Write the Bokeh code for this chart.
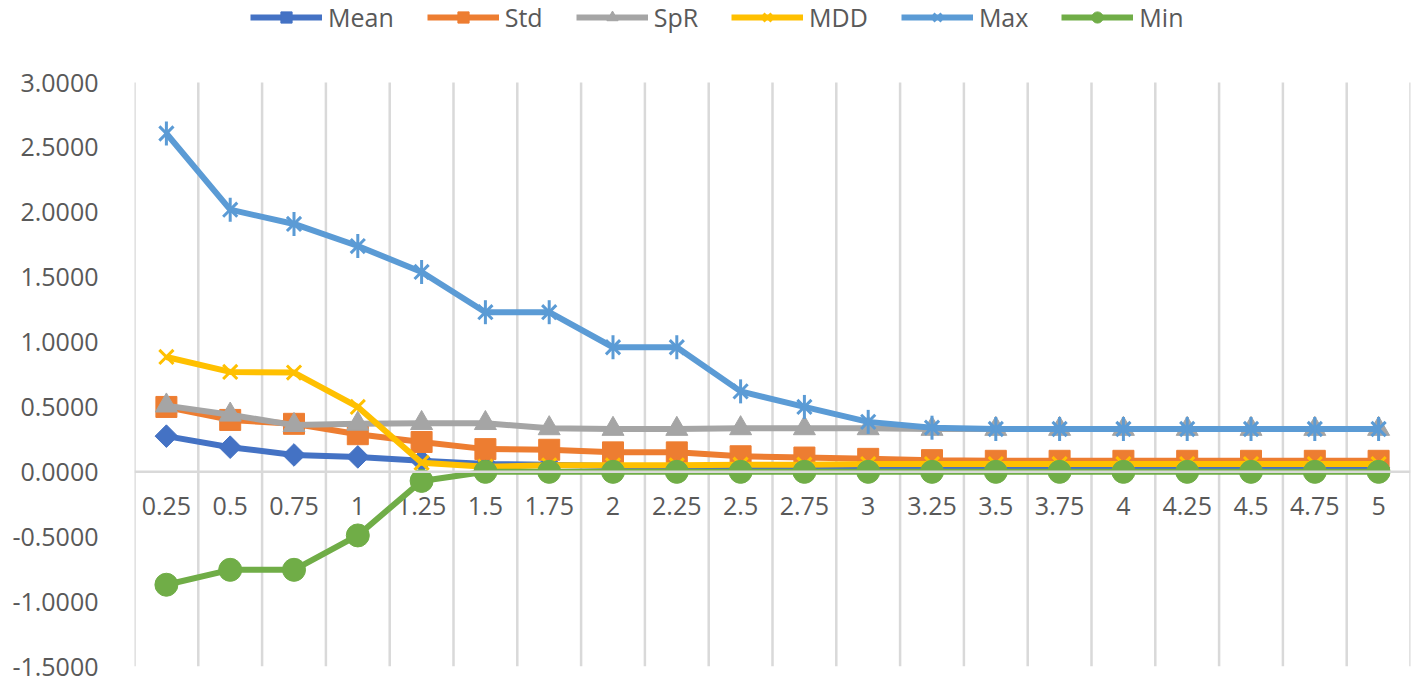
import math
from bokeh.plotting import figure
from bokeh.models import (Range1d, FixedTicker, Span, Legend, LegendItem)
from bokeh.core.properties import value
from bokeh.embed import file_html
from bokeh.resources import INLINE

categories = ["0.25", "0.5", "0.75", "1", "1.25", "1.5", "1.75", "2", "2.25", "2.5",
              "2.75", "3", "3.25", "3.5", "3.75", "4", "4.25", "4.5", "4.75", "5"]
mean_vals = [0.275, 0.19, 0.13, 0.115, 0.085, 0.06, 0.055, 0.045, 0.045, 0.04,
             0.035, 0.035, 0.03, 0.03, 0.03, 0.03, 0.03, 0.03, 0.03, 0.03]
std_vals = [0.50, 0.40, 0.37, 0.29, 0.23, 0.175, 0.17, 0.15, 0.15, 0.12,
            0.11, 0.10, 0.09, 0.085, 0.085, 0.085, 0.085, 0.085, 0.085, 0.085]
spr_vals = [0.51, 0.44, 0.36, 0.37, 0.375, 0.375, 0.335, 0.33, 0.33, 0.335,
            0.335, 0.335, 0.33, 0.33, 0.33, 0.33, 0.33, 0.33, 0.33, 0.33]
mdd_vals = [0.885, 0.77, 0.765, 0.50, 0.07, 0.04, 0.05, 0.05, 0.05, 0.055,
            0.055, 0.06, 0.06, 0.06, 0.06, 0.06, 0.06, 0.06, 0.06, 0.06]
max_vals = [2.607, 2.02, 1.91, 1.74, 1.54, 1.23, 1.23, 0.96, 0.96, 0.62,
            0.50, 0.385, 0.34, 0.33, 0.33, 0.33, 0.33, 0.33, 0.33, 0.33]
min_vals = [-0.87, -0.755, -0.755, -0.49, -0.07, 0.0, 0.0, 0.0, 0.0, 0.0,
            0.0, 0.0, 0.0, 0.0, 0.0, 0.0, 0.0, 0.0, 0.0, 0.0]
y_ticks = [-1.5, -1.0, -0.5, 0.0, 0.5, 1.0, 1.5, 2.0, 2.5, 3.0]
y_tick_labels = ["-1.5000", "-1.0000", "-0.5000", "0.0000", "0.5000",
                 "1.0000", "1.5000", "2.0000", "2.5000", "3.0000"]

xs = list(range(len(categories)))
n = len(categories)
y_min, y_max = y_ticks[0], y_ticks[-1]

W, H = 1416, 681
top_b, bot_b, left_b, right_b = 0, 15, 134, 6
headroom = 82
frame_h = H - top_b - bot_b
px_per_unit = (frame_h - headroom) / (y_max - y_min)
y_top = y_max + headroom / px_per_unit

p = figure(width=W, height=H, output_backend="svg", toolbar_location=None,
           x_range=Range1d(-0.5, n - 0.5), y_range=Range1d(y_min, y_top),
           min_border_left=left_b, min_border_right=right_b,
           min_border_top=top_b, min_border_bottom=bot_b)
p.outline_line_color = None
p.background_fill_color = "white"
p.border_fill_color = "white"

p.xaxis.visible = False
p.xgrid.visible = False
p.ygrid.visible = False

# vertical category-boundary gridlines spanning the value range
bounds = [i - 0.5 for i in range(n + 1)]
p.segment(x0=bounds, y0=[y_min] * len(bounds), x1=bounds, y1=[y_max] * len(bounds),
          line_color="#d9d9d9", line_width=2.5)

p.yaxis.ticker = FixedTicker(ticks=y_ticks)
p.yaxis.major_label_overrides = {t: l for t, l in zip(y_ticks, y_tick_labels)}
p.yaxis.axis_line_color = None
p.yaxis.major_tick_line_color = None
p.yaxis.minor_tick_line_color = None
p.yaxis.major_label_standoff = 30
p.yaxis.major_label_text_font = "Open Sans"
p.yaxis.major_label_text_font_size = "25px"
p.yaxis.major_label_text_color = "#595959"

p.add_layout(Span(location=0, dimension="width", line_color="#d9d9d9", line_width=2.5))

p.text(x=xs, y=[0] * n, text=categories, text_align="center", text_baseline="top",
       y_offset=25, text_font=value("Open Sans"), text_font_size="25px", text_color="#595959")

lw = 6
items = []

c = "#4472C4"
l = p.line(xs, mean_vals, line_color=c, line_width=lw)
s = p.scatter(xs, mean_vals, marker="square", angle=math.pi / 4, size=16, fill_color=c, line_color=c)
items.append(LegendItem(label="Mean", renderers=[l, s]))

c = "#ED7D31"
l = p.line(xs, std_vals, line_color=c, line_width=lw)
s = p.scatter(xs, std_vals, marker="square", size=21, fill_color=c, line_color=c)
items.append(LegendItem(label="Std", renderers=[l, s]))

c = "#A5A5A5"
l = p.line(xs, spr_vals, line_color=c, line_width=lw)
s = p.scatter(xs, spr_vals, marker="triangle", size=22, fill_color=c, line_color=c)
items.append(LegendItem(label="SpR", renderers=[l, s]))

c = "#FFC000"
l = p.line(xs, mdd_vals, line_color=c, line_width=lw)
s = p.scatter(xs, mdd_vals, marker="x", size=20, line_color=c, line_width=3)
items.append(LegendItem(label="MDD", renderers=[l, s]))

c = "#5B9BD5"
l = p.line(xs, max_vals, line_color=c, line_width=lw)
s = p.scatter(xs, max_vals, marker="x", size=20, line_color=c, line_width=3)
s2 = p.scatter(xs, max_vals, marker="dash", angle=math.pi / 2, size=24, line_color=c, line_width=3)
items.append(LegendItem(label="Max", renderers=[l, s, s2]))

c = "#70AD47"
l = p.line(xs, min_vals, line_color=c, line_width=lw)
s = p.scatter(xs, min_vals, marker="circle", size=23, fill_color=c, line_color=c)
items.append(LegendItem(label="Min", renderers=[l, s]))

legend = Legend(items=items, orientation="horizontal", location=(116, frame_h - 34),
                label_text_font="Open Sans", label_text_font_size="25px",
                label_text_color="#595959", glyph_width=72, glyph_height=28,
                label_standoff=6, spacing=33, padding=0, margin=0,
                border_line_color=None, background_fill_alpha=0)
p.add_layout(legend)

open("out.html", "w").write(file_html(p, INLINE))
